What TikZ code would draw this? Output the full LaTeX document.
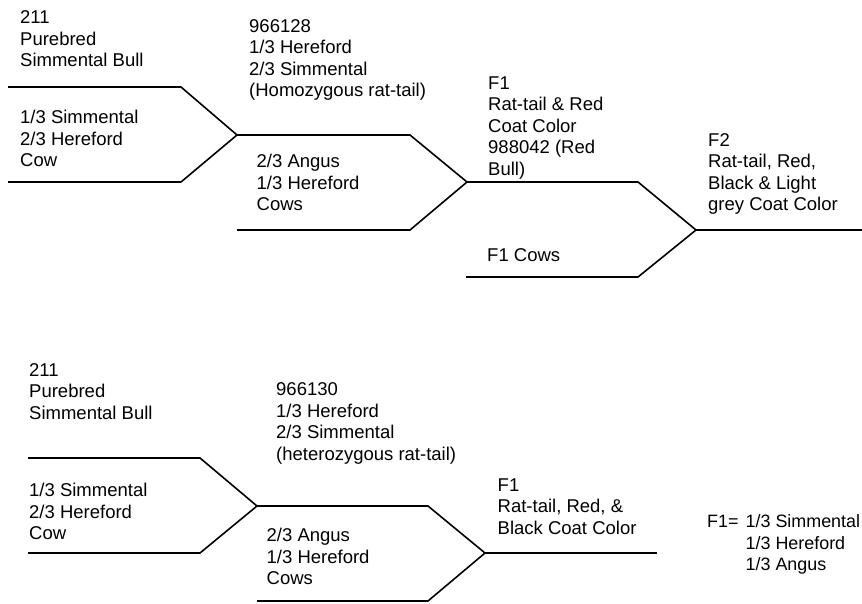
\documentclass[tikz,border=0pt]{standalone}
\usepackage{fontspec}
\setmainfont{Liberation Sans}
\begin{document}
\begin{tikzpicture}[x=1pt,y=-1pt,
  lbl/.style={anchor=base west,inner sep=0pt,align=left,font=\fontsize{18.5}{21.5}\selectfont},
  lbls/.style={lbl,font=\fontsize{17.9}{21.5}\selectfont},
  ln/.style={line width=1.6pt,line join=miter}]
\useasboundingbox (0,0) rectangle (862,604);
% top diagram coordinates
\coordinate (a1) at (8,87);   \coordinate (a2) at (181,87);
\coordinate (a3) at (8,182);  \coordinate (a4) at (181,182);
\coordinate (j1) at (237,135);
\coordinate (b1) at (410,135); \coordinate (b2) at (237,230); \coordinate (b3) at (410,230);
\coordinate (j2) at (467,182);
\coordinate (c1) at (638,182); \coordinate (c2) at (466,277); \coordinate (c3) at (638,277);
\coordinate (j3) at (696,230); \coordinate (c4) at (862,230);
\draw[ln] (a1) -- (a2) -- (j1) -- (a4) -- (a3);
\draw[ln] (j1) -- (b1) -- (j2) -- (b3) -- (b2);
\draw[ln] (j2) -- (c1) -- (j3) -- (c3) -- (c2);
\draw[ln] (j3) -- (c4);
% bottom diagram coordinates
\coordinate (d1) at (28,458);  \coordinate (d2) at (200,458);
\coordinate (d3) at (28,553);  \coordinate (d4) at (200,553);
\coordinate (k1) at (257,506);
\coordinate (e1) at (428,506); \coordinate (e2) at (257,601); \coordinate (e3) at (428,601);
\coordinate (k2) at (485,553); \coordinate (f1) at (657,553);
\draw[ln] (d1) -- (d2) -- (k1) -- (d4) -- (d3);
\draw[ln] (k1) -- (e1) -- (k2) -- (e3) -- (e2);
\draw[ln] (k2) -- (f1);
% top labels (positions are the baseline of the last line)
\node[lbl] (t1) at (20,67) {211\\Purebred\\Simmental Bull};
\node[lbl] (t2) at (20,167) {1/3 Simmental\\2/3 Hereford\\Cow};
\node[lbl] (t3) at (249,97) {966128\\1/3 Hereford\\2/3 Simmental\\(Homozygous rat-tail)};
\node[lbl] (t4) at (256.5,211) {2/3 Angus\\1/3 Hereford\\Cows};
\node[lbl] (t5) at (488,175.3) {F1\\Rat-tail \& Red\\Coat Color\\988042 (Red\\Bull)};
\node[lbl] (t6) at (708,211) {F2\\Rat-tail, Red,\\Black \& Light\\grey Coat Color};
\node[lbl] (t7) at (487,261.7) {F1 Cows};
% bottom labels
\node[lbl] (u1) at (29,419) {211\\Purebred\\Simmental Bull};
\node[lbl] (u2) at (29,539.5) {1/3 Simmental\\2/3 Hereford\\Cow};
\node[lbl] (u3) at (276,460) {966130\\1/3 Hereford\\2/3 Simmental\\(heterozygous rat-tail)};
\node[lbl] (u4) at (266.5,584.5) {2/3 Angus\\1/3 Hereford\\Cows};
\node[lbl] (u5) at (497.5,534) {F1\\Rat-tail, Red, \&\\Black Coat Color};
\node[lbls] (u6) at (707,527.7) {F1=};
\node[lbls] (u7) at (745.5,570.8) {1/3 Simmental\\1/3 Hereford\\1/3 Angus};
\end{tikzpicture}
\end{document}
